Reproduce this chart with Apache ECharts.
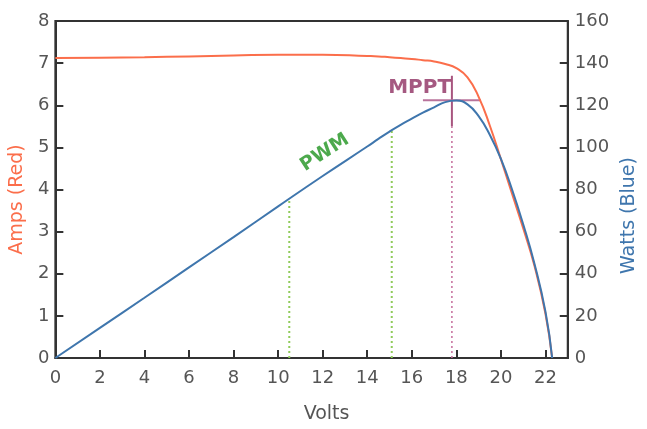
<!DOCTYPE html>
<html>
<head>
<meta charset="utf-8">
<script src="https://cdn.jsdelivr.net/npm/echarts@6/dist/echarts.min.js"></script>
<style>html,body{margin:0;padding:0;background:#fff}#c{width:647px;height:429px}</style>
</head>
<body>
<div id="c"></div>
<script>
// Data
const ampVolts = [0, 2, 4, 6, 8, 10, 12, 14, 14.5, 15, 15.5, 16, 16.5, 17, 17.5, 18, 18.5, 19, 19.5, 20, 20.5, 21, 21.5, 22, 22.3];
const amps     = [7.12, 7.13, 7.14, 7.16, 7.18, 7.2, 7.2, 7.17, 7.16, 7.14, 7.12, 7.1, 7.07, 7.04, 6.98, 6.88, 6.66, 6.2, 5.52, 4.72, 3.9, 3.08, 2.2, 1.05, 0];
const wattVolts = [0, 2, 4, 6, 8, 10, 12, 14, 14.5, 15, 15.5, 16, 16.5, 17, 17.5, 18, 18.5, 19, 19.5, 20, 20.5, 21, 21.5, 22, 22.3];
const watts     = [0, 14.3, 28.6, 43, 57.4, 72, 86.4, 100.4, 104, 107.5, 110.7, 113.6, 116.5, 119, 121.5, 122.2, 120.4, 114.8, 106, 94.5, 80, 63.5, 45, 22, 0];
const pwmVolts = [10.5, 15.1];
const pwmWatts = [75, 108];
const mpptVolt = 17.8;
const mpptWatt = 122.4;
const mpptHRange = [16.5, 19.1];
const mpptVRange = [110, 134];
const xTicks = [0, 2, 4, 6, 8, 10, 12, 14, 16, 18, 20, 22];
const ampTicks = [0, 1, 2, 3, 4, 5, 6, 7, 8];
const wattTicks = [0, 20, 40, 60, 80, 100, 120, 140, 160];

const axisCol = '#333';
const labelStyle = {color: '#555', fontSize: 18, fontFamily: 'DejaVu Sans'};
const zip = (a, b) => a.map((v, i) => [v, b[i]]);

const series = [
  {type: 'line', yAxisIndex: 0, data: zip(ampVolts, amps), smooth: 0.5,
   symbol: 'none', lineStyle: {color: '#fb6e4b', width: 2}, z: 5},
  {type: 'line', yAxisIndex: 1, data: zip(wattVolts, watts), smooth: 0.5,
   symbol: 'none', lineStyle: {color: '#3f76ad', width: 2}, z: 6}
];
pwmVolts.forEach((v, i) => {
  series.push({type: 'line', yAxisIndex: 1, data: [[v, 0], [v, pwmWatts[i]]], symbol: 'none',
    lineStyle: {color: '#8fcb5a', width: 2, type: [2, 3]}, z: 3});
});
series.push({type: 'line', yAxisIndex: 1, data: [[mpptVolt, 0], [mpptVolt, mpptVRange[0]]], symbol: 'none',
  lineStyle: {color: '#c56b9a', width: 1.5, type: [2, 3]}, z: 3});
series.push({type: 'line', yAxisIndex: 1, data: [[mpptVolt, mpptVRange[0]], [mpptVolt, mpptVRange[1]]], symbol: 'none',
  lineStyle: {color: '#a8557f', width: 2}, z: 4});
series.push({type: 'line', yAxisIndex: 1, data: [[mpptHRange[0], mpptWatt], [mpptHRange[1], mpptWatt]], symbol: 'none',
  lineStyle: {color: '#b9739b', width: 2}, z: 4});
// labels anchored to data points
series.push({type: 'scatter', yAxisIndex: 1, data: [[16.35, 128.5]], symbolSize: 0,
  label: {show: true, formatter: 'MPPT', position: 'inside', color: '#8e2f62', fontWeight: 'bold',
          fontSize: 20, fontFamily: 'DejaVu Sans'}, z: 7});
series.push({type: 'scatter', yAxisIndex: 1, data: [[12.1, 97.5]], symbolSize: 0,
  label: {show: true, formatter: 'PWM', position: 'inside', rotate: 33, color: '#1f931f', fontWeight: 'bold',
          fontSize: 19, fontFamily: 'DejaVu Sans'}, z: 7});

const chart = echarts.init(document.getElementById('c'));
chart.setOption({
  animation: false,
  backgroundColor: '#fff',
  grid: {left: 54, right: 72, top: 21, bottom: 66, show: true, borderColor: axisCol, borderWidth: 2},
  xAxis: {
    type: 'value', min: 0, max: 23, interval: 2,
    name: 'Volts', nameLocation: 'middle', nameGap: 47,
    nameTextStyle: {color: '#555', fontSize: 19, fontFamily: 'DejaVu Sans', padding: [0, 0, 0, 30]},
    axisLine: {show: true, lineStyle: {color: axisCol, width: 2}},
    axisTick: {show: true, inside: true, length: 8, lineStyle: {color: axisCol, width: 2}},
    axisLabel: Object.assign({margin: 11, showMaxLabel: false,
      formatter: v => xTicks.includes(v) ? String(v) : ''}, labelStyle),
    splitLine: {show: false}
  },
  yAxis: [
    {type: 'value', min: 0, max: 8, interval: 1, position: 'left',
     name: 'Amps (Red)', nameLocation: 'middle', nameGap: 28,
     nameTextStyle: {color: '#fb6e4b', fontSize: 19, fontFamily: 'DejaVu Sans', padding: [0, 20, 0, 0]},
     axisLine: {show: true, lineStyle: {color: axisCol, width: 2}},
     axisTick: {show: true, inside: true, length: 8, lineStyle: {color: axisCol, width: 2}},
     axisLabel: Object.assign({margin: 6, formatter: v => ampTicks.includes(v) ? String(v) : ''}, labelStyle),
     splitLine: {show: false}},
    {type: 'value', min: 0, max: 160, interval: 20, position: 'right',
     name: 'Watts (Blue)', nameLocation: 'middle', nameGap: 50,
     nameTextStyle: {color: '#3f76ad', fontSize: 19, fontFamily: 'DejaVu Sans', padding: [0, 52, 0, 0]},
     axisLine: {show: true, lineStyle: {color: axisCol, width: 2}},
     axisTick: {show: true, inside: true, length: 8, lineStyle: {color: axisCol, width: 2}},
     axisLabel: Object.assign({margin: 7, formatter: v => wattTicks.includes(v) ? String(v) : ''}, labelStyle),
     splitLine: {show: false}}
  ],
  series: series
});
</script>
</body>
</html>
